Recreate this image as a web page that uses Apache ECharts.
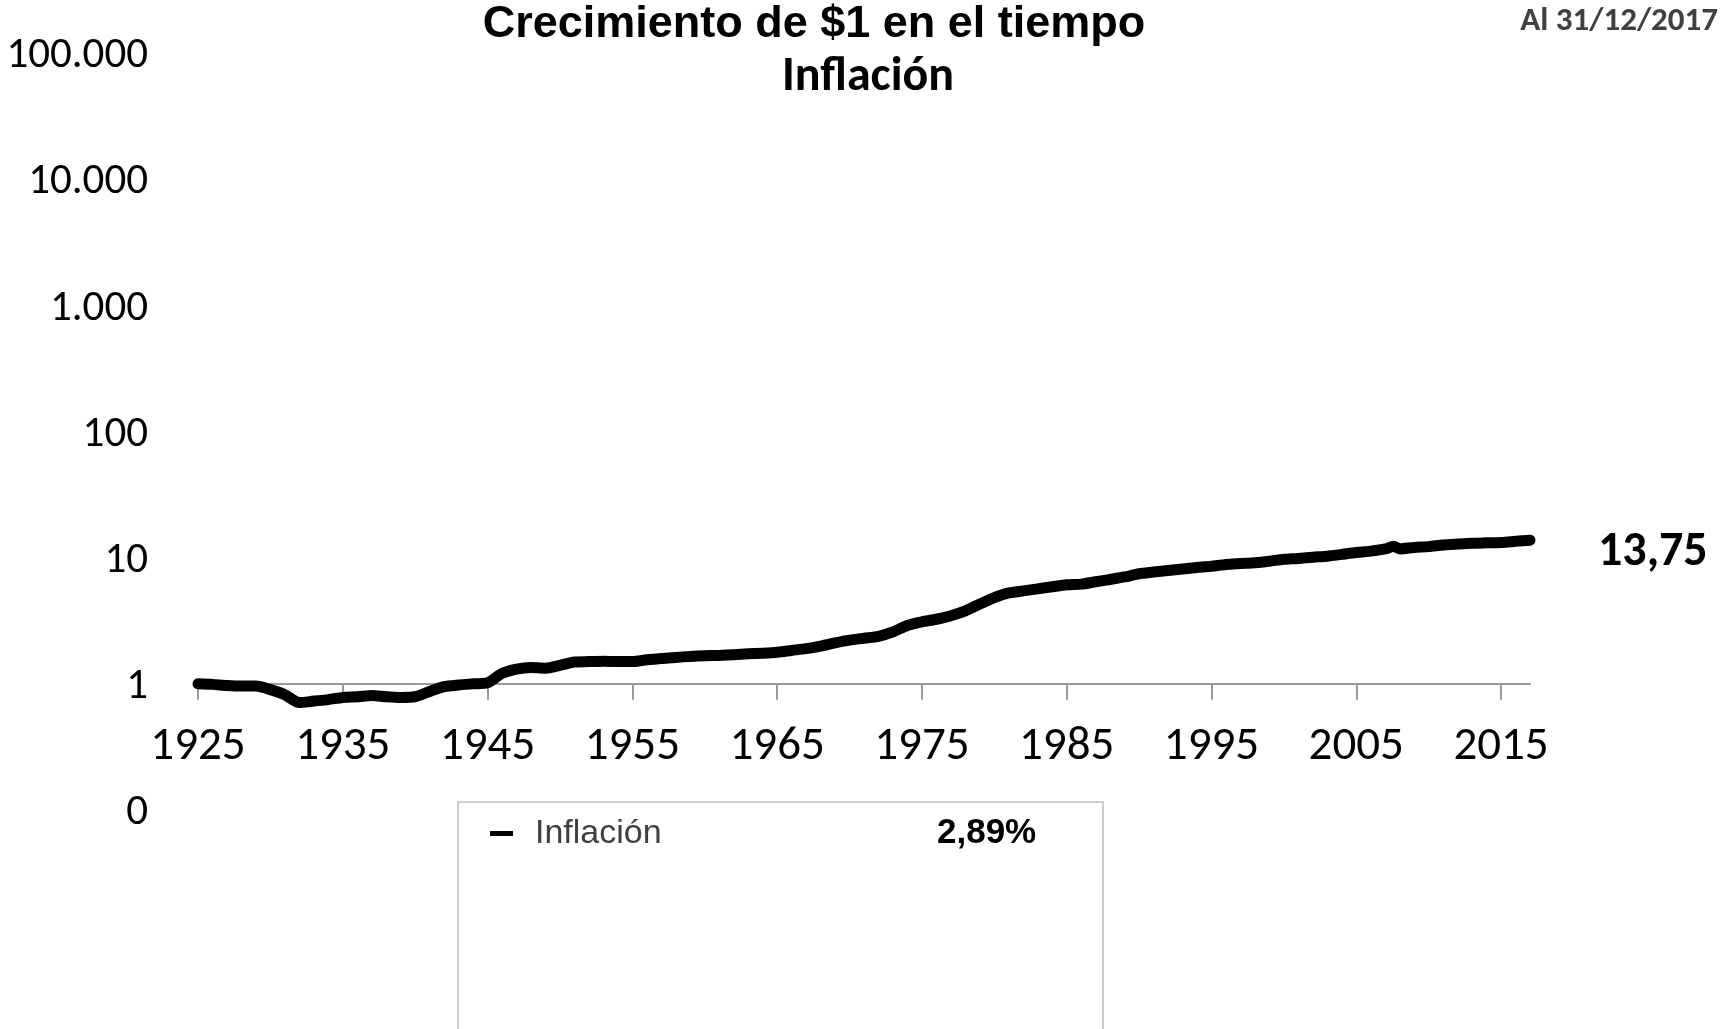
<!DOCTYPE html>
<html>
<head>
<meta charset="utf-8">
<title>Crecimiento de $1 en el tiempo</title>
<script src="https://cdn.jsdelivr.net/npm/echarts@6/dist/echarts.min.js"></script>
<style>
  html, body { margin: 0; padding: 0; background: #fff; }
  #chart { width: 1723px; height: 1029px; }
</style>
</head>
<body>
<div id="chart"></div>
<script>
// valor de $1 invertido a fin de 1925 (índice de inflación)
const years = [
  1925, 1926, 1927, 1928, 1929, 1930, 1931, 1932, 1933, 1934,
  1935, 1936, 1937, 1938, 1939, 1940, 1941, 1942, 1943, 1944,
  1945, 1946, 1947, 1948, 1949, 1950, 1951, 1952, 1953, 1954,
  1955, 1956, 1957, 1958, 1959, 1960, 1961, 1962, 1963, 1964,
  1965, 1966, 1967, 1968, 1969, 1970, 1971, 1972, 1973, 1974,
  1975, 1976, 1977, 1978, 1979, 1980, 1981, 1982, 1983, 1984,
  1985, 1986, 1987, 1988, 1989, 1990, 1991, 1992, 1993, 1994,
  1995, 1996, 1997, 1998, 1999, 2000, 2001, 2002, 2003, 2004,
  2005, 2006, 2007, 2008, 2009, 2010, 2011, 2012, 2013, 2014,
  2015, 2016, 2017
]
const inflation = [
  1.00, 0.99, 0.97, 0.96, 0.96, 0.90, 0.82, 0.71, 0.73, 0.75,
  0.78, 0.79, 0.81, 0.79, 0.78, 0.79, 0.87, 0.95, 0.98, 1.00,
  1.02, 1.21, 1.31, 1.35, 1.33, 1.40, 1.49, 1.50, 1.51, 1.50,
  1.50, 1.55, 1.59, 1.62, 1.65, 1.67, 1.68, 1.70, 1.73, 1.75,
  1.78, 1.84, 1.90, 1.99, 2.11, 2.22, 2.30, 2.38, 2.58, 2.90,
  3.10, 3.25, 3.47, 3.79, 4.29, 4.82, 5.25, 5.45, 5.66, 5.88,
  6.10, 6.17, 6.44, 6.72, 7.03, 7.46, 7.69, 7.92, 8.13, 8.35,
  8.56, 8.84, 8.99, 9.13, 9.38, 9.70, 9.85, 10.09, 10.28, 10.62,
  10.98, 11.26, 11.72, 11.73, 12.05, 12.23, 12.60, 12.81, 13.00, 13.10,
  13.19, 13.47, 13.75
]
// pico de mediados de 2008
const spikeYear = 2007.58
const spikeValue = 12.3

const tickYears = [1925, 1935, 1945, 1955, 1965, 1975, 1985, 1995, 2005, 2015]
const seriesName = 'Inflación'
const annualRate = '2,89%'
const asOfDate = 'Al 31/12/2017'

const points = years.map((y, i) => [y, inflation[i]])
points.push([spikeYear, spikeValue])
points.sort((a, b) => a[0] - b[0])

const chartH = 1029
const gridTop = 53
const gridBottom = 219
const decadePx = (chartH - gridTop - gridBottom) / 6

const labelFont = 'Carlito, Calibri, Lato, sans-serif'

function thousands(v) {
  return String(Math.round(v)).replace(/\B(?=(\d{3})+(?!\d))/g, '.')
}

const chart = echarts.init(document.getElementById('chart'), null, {renderer: 'canvas'})

chart.setOption({
  animation: false,
  backgroundColor: '#fff',
  grid: {
    left: 198,
    right: 193,
    top: gridTop,
    bottom: gridBottom
  },
  legend: {
    data: [seriesName],
    left: 485,
    top: 811,
    icon: 'rect',
    itemWidth: 23,
    itemHeight: 5,
    selectedMode: false,
    formatter: name => '{n|' + name + '}{v|' + annualRate + '}',
    textStyle: {
      rich: {
        n: {
          fontFamily: '"Liberation Sans", Arial, sans-serif',
          fontSize: 34,
          color: '#404040',
          width: 402,
          lineHeight: 40,
          padding: [0, 0, 0, 17]
        },
        v: {
          fontFamily: '"Liberation Sans", Arial, sans-serif',
          fontSize: 35,
          fontWeight: 'bold',
          color: '#000',
          lineHeight: 40
        }
      }
    }
  },
  xAxis: {
    type: 'value',
    min: 1925,
    max: 2017,
    offset: -decadePx,
    splitLine: {show: false},
    axisLine: {
      show: true,
      onZero: false,
      lineStyle: {color: '#9a9a9a', width: 2}
    },
    axisTick: {
      show: true,
      customValues: tickYears,
      length: 16,
      lineStyle: {color: '#9a9a9a', width: 2}
    },
    axisLabel: {
      customValues: tickYears,
      formatter: v => String(v),
      fontFamily: labelFont,
      fontSize: 47,
      color: '#000',
      margin: 40
    }
  },
  yAxis: {
    type: 'log',
    logBase: 10,
    min: 0.1,
    max: 100000,
    splitNumber: 6,
    axisLine: {show: false},
    axisTick: {show: false},
    splitLine: {show: false},
    axisLabel: {
      formatter: v => '{a|' + thousands(v) + '}',
      margin: 50,
      rich: {
        a: {
          fontFamily: labelFont,
          fontSize: 43,
          color: '#000',
          lineHeight: 50,
          padding: [7, 0, 0, 0]
        }
      }
    }
  },
  series: [{
    name: seriesName,
    type: 'line',
    data: points,
    showSymbol: false,
    smooth: 0.25,
    color: '#000',
    lineStyle: {color: '#000', width: 11, cap: 'round', join: 'round'},
    endLabel: {
      show: true,
      formatter: p => p.value[1].toFixed(2).replace('.', ','),
      distance: 68,
      offset: [0, 13],
      fontFamily: labelFont,
      fontSize: 48,
      fontWeight: 'bold',
      color: '#000'
    }
  }],
  graphic: [
    {
      type: 'text',
      x: 814,
      y: 25,
      style: {
        text: 'Crecimiento de $1 en el tiempo',
        font: 'bold 45px "Liberation Sans", Arial, sans-serif',
        fill: '#000',
        align: 'center',
        verticalAlign: 'middle'
      }
    },
    {
      type: 'text',
      x: 868,
      y: 78,
      style: {
        text: seriesName,
        font: 'bold 48px ' + labelFont,
        fill: '#000',
        align: 'center',
        verticalAlign: 'middle'
      }
    },
    {
      type: 'text',
      x: 1718,
      y: 22,
      style: {
        text: asOfDate,
        font: 'bold 33px ' + labelFont,
        fill: '#404040',
        align: 'right',
        verticalAlign: 'middle'
      }
    },
    {
      type: 'rect',
      shape: {x: 458, y: 802, width: 645, height: 400},
      style: {fill: 'none', stroke: '#bfbfbf', lineWidth: 1.5}
    }
  ]
})
</script>
</body>
</html>
